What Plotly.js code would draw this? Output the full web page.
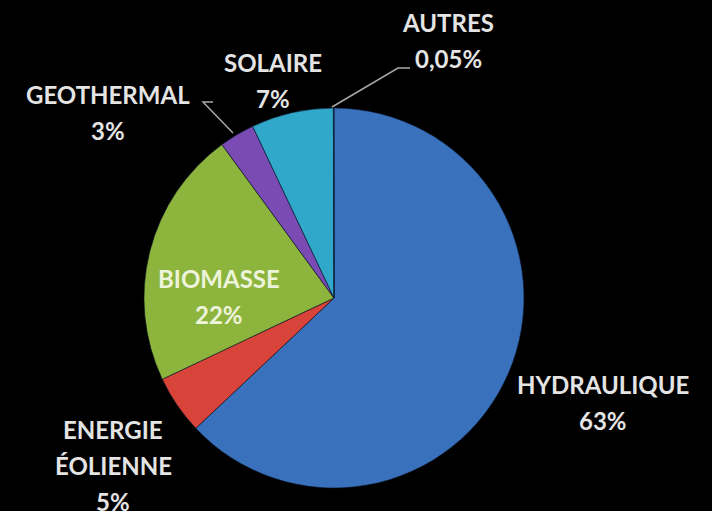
<!DOCTYPE html>
<html>
<head>
<meta charset="utf-8">
<script src="https://cdn.plot.ly/plotly-3.0.1.min.js"></script>
<style>html,body{margin:0;padding:0;background:#000;}#chart{width:712px;height:511px;}</style>
</head>
<body>
<div id="chart"></div>
<script>
// Data
const labels = ['HYDRAULIQUE', 'ENERGIE ÉOLIENNE', 'BIOMASSE', 'GEOTHERMAL', 'SOLAIRE', 'AUTRES'];
const values = [63, 5, 22, 3, 7, 0.05];
const colors = ['#3a71bc', '#d8443a', '#8db53e', '#7a4cb3', '#30a8ca', '#2a5f9e'];

// Layout helpers (pixel -> paper)
const W = 712, H = 511;
const px = x => x / W;
const py = y => 1 - y / H;
const cx = 334, cy = 298, r = 190;

// label anchor positions (center x, first line y) and line gap, in pixels
const labelAnchors = [[603, 384], [113, 429], [219, 278], [108, 94], [273, 62], [448, 22]];
const lineGap = 36;

const fmtPct = v => String(v).replace('.', ',') + '%';

const annotations = [];
labels.forEach((lab, i) => {
  const lines = (lab === 'ENERGIE ÉOLIENNE') ? ['ENERGIE', 'ÉOLIENNE'] : [lab];
  lines.push(fmtPct(values[i]));
  const [ax, ay] = labelAnchors[i];
  lines.forEach((t, k) => {
    annotations.push({
      text: t, xref: 'paper', yref: 'paper',
      x: px(ax), y: py(ay + k * lineGap),
      xanchor: 'center', yanchor: 'middle', showarrow: false,
      font: {family: 'Lato, "DejaVu Sans", sans-serif', size: 24, weight: 700,
             color: i === 2 ? '#eef4dc' : '#e4e4e4'}
    });
  });
});

const lineStyle = {color: '#a8a8a8', width: 1.5};
const shapes = [
  {type: 'path', xref: 'paper', yref: 'paper',
   path: `M ${px(213)} ${py(102)} L ${px(203)} ${py(102)} L ${px(233)} ${py(133)}`, line: lineStyle},
  {type: 'path', xref: 'paper', yref: 'paper',
   path: `M ${px(410)} ${py(68)} L ${px(398)} ${py(68)} L ${px(332)} ${py(107)}`, line: lineStyle}
];

const trace = {
  type: 'pie',
  labels: labels,
  values: values,
  sort: false,
  direction: 'clockwise',
  rotation: 0,
  textinfo: 'none',
  hoverinfo: 'label+percent',
  marker: {colors: colors, line: {color: 'rgba(10,20,40,0.6)', width: 1}},
  domain: {x: [px(cx - r), px(cx + r)], y: [py(cy + r), py(cy - r)]},
  showlegend: false
};

Plotly.newPlot('chart', [trace], {
  width: W, height: H,
  margin: {l: 0, r: 0, t: 0, b: 0},
  paper_bgcolor: '#000', plot_bgcolor: '#000',
  showlegend: false,
  annotations: annotations,
  shapes: shapes
}, {displayModeBar: false, staticPlot: true});
</script>
</body>
</html>
